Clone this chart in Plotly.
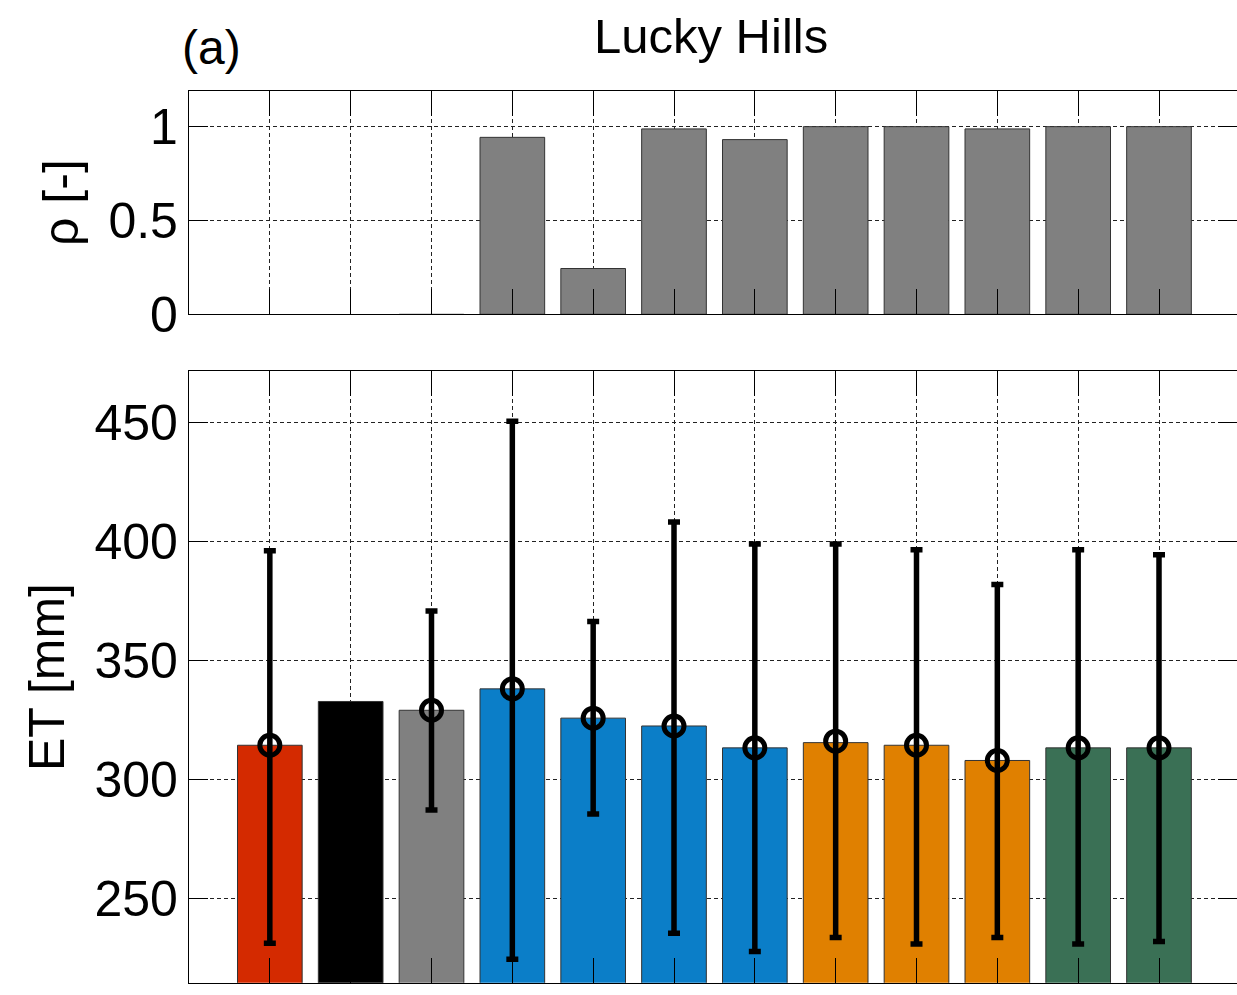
import plotly.graph_objects as go

# ---- data ----
categories = list(range(1, 13))
rho = [None, None, -0.005, 0.943, 0.244, 0.988, 0.931, 1.0, 1.0, 0.988, 1.0, 1.0]
et_bar = [314.3, 332.7, 329.0, 338.0, 325.7, 322.4, 313.2, 315.4, 314.3, 307.9, 313.2, 313.2]
et_mean = [314.3, None, 329.0, 338.0, 325.7, 322.4, 313.2, 316.0, 314.3, 307.9, 313.2, 313.2]
et_upper = [396.1, None, 370.7, 450.5, 366.3, 408.1, 398.9, 398.9, 396.5, 381.9, 396.5, 394.4]
et_lower = [231.1, None, 287.1, 224.4, 285.4, 235.3, 227.6, 233.5, 230.8, 233.5, 230.8, 231.8]
bar_colors = ["#D42A00", "#000000", "#808080", "#0B7EC8", "#0B7EC8", "#0B7EC8",
              "#0B7EC8", "#E08000", "#E08000", "#E08000", "#3A7055", "#3A7055"]
rho_ticks = [0, 0.5, 1]
rho_ticklabels = ["0", "0.5", "1"]
et_ticks = [250, 300, 350, 400, 450]
et_ticklabels = ["250", "300", "350", "400", "450"]

FONT = "Arial, Liberation Sans, Helvetica, sans-serif"
W, H = 1237, 995

def py(px):  # pixel from top -> paper y
    return (H - px) / H

def px_x(px):  # pixel from left -> paper x (plot area 189..1237)
    return (px - 189) / (W - 189)

fig = go.Figure()

# top panel: rho
fig.add_trace(go.Bar(
    x=categories, y=rho, width=0.8,
    marker=dict(color="#808080", line=dict(color="#333333", width=1)),
    xaxis="x2", yaxis="y2", showlegend=False, hoverinfo="skip"))

# bottom panel: ET bars
fig.add_trace(go.Bar(
    x=categories, y=et_bar, width=0.8,
    marker=dict(color=bar_colors, line=dict(color="#333333", width=1)),
    xaxis="x", yaxis="y", showlegend=False, hoverinfo="skip"))

# error bars with circle markers
xs, ys, up, dn = [], [], [], []
for c, m, u, l in zip(categories, et_mean, et_upper, et_lower):
    if m is None:
        continue
    xs.append(c)
    ys.append(m)
    up.append(u - m)
    dn.append(m - l)

fig.add_trace(go.Scatter(
    x=xs, y=ys, mode="markers",
    marker=dict(symbol="circle-open", size=20, color="black", line=dict(width=5, color="black")),
    error_y=dict(type="data", symmetric=False, array=up, arrayminus=dn,
                 color="black", thickness=5.5, width=6),
    xaxis="x", yaxis="y", showlegend=False, hoverinfo="skip"))

grid = dict(showgrid=True, gridcolor="#222222", gridwidth=1, griddash="4px,3px")
common_x = dict(tickmode="array", tickvals=categories, showticklabels=False,
                ticks="inside", ticklen=25, tickwidth=1.2, tickcolor="black",
                showline=True, linecolor="black", linewidth=1.2, mirror="ticks",
                zeroline=False, automargin=False, range=[0, 12.965], **grid)
common_y = dict(ticks="inside", ticklen=19, tickwidth=1.2, tickcolor="black",
                showline=True, linecolor="black", linewidth=1.2, mirror="ticks",
                zeroline=False, automargin=False,
                tickfont=dict(family=FONT, size=50, color="black"),
                ticklabelstandoff=0, **grid)

fig.update_layout(
    template="none",
    width=W, height=H, autosize=False,
    margin=dict(l=189, r=0, t=0, b=0, pad=0, autoexpand=False),
    paper_bgcolor="white", plot_bgcolor="white",
    font=dict(family=FONT, color="black"),
    showlegend=False,
    xaxis=dict(domain=[0, 1], anchor="y", **common_x),
    yaxis=dict(domain=[py(982.7), py(371)], anchor="x", range=[214.5, 471.6],
               tickmode="array", tickvals=et_ticks, ticktext=et_ticklabels, **common_y),
    xaxis2=dict(domain=[0, 1], anchor="y2", **common_x),
    yaxis2=dict(domain=[py(314.3), py(91)], anchor="x2", range=[0, 1.19],
                tickmode="array", tickvals=rho_ticks, ticktext=rho_ticklabels, **common_y),
    annotations=[
        dict(text="Lucky Hills", xref="paper", yref="paper", x=px_x(711), y=py(36),
             xanchor="center", yanchor="middle", showarrow=False,
             font=dict(family=FONT, size=49, color="black")),
        dict(text="(a)", xref="paper", yref="paper", x=px_x(211), y=py(47),
             xanchor="center", yanchor="middle", showarrow=False,
             font=dict(family=FONT, size=48, color="black")),
        dict(text="ρ [-]", xref="paper", yref="paper", x=px_x(61), y=py(203),
             xanchor="center", yanchor="middle", showarrow=False, textangle=-90,
             font=dict(family=FONT, size=50, color="black")),
        dict(text="ET [mm]", xref="paper", yref="paper", x=px_x(47), y=py(677),
             xanchor="center", yanchor="middle", showarrow=False, textangle=-90,
             font=dict(family=FONT, size=50, color="black")),
    ],
)

fig.write_html(
    "out.html",
    config={"responsive": False, "displayModeBar": False},
    post_script="document.body.style.margin='0';document.body.style.overflow='hidden';",
)
